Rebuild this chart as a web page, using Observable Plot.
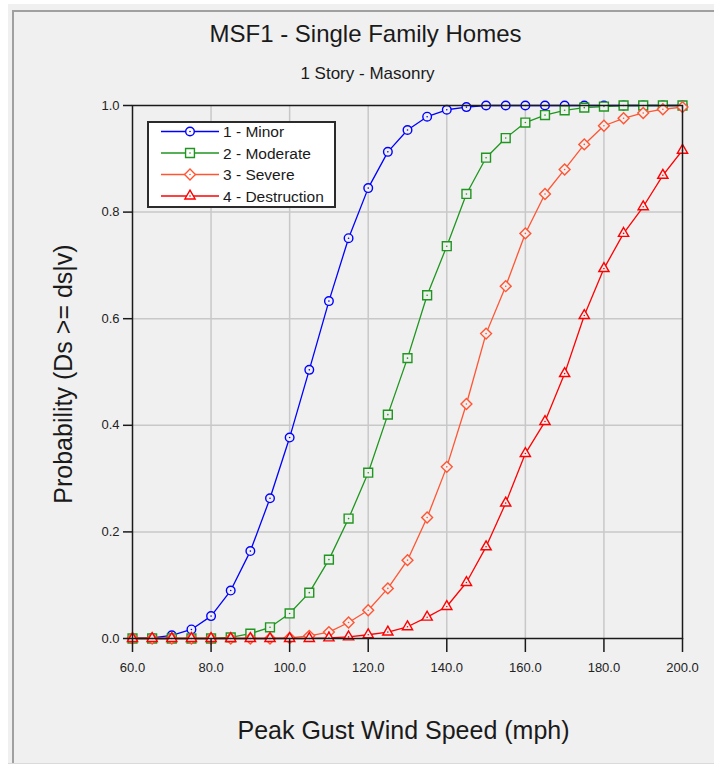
<!DOCTYPE html>
<html><head><meta charset="utf-8">
<script src="https://cdn.jsdelivr.net/npm/d3@7"></script>
<script src="https://cdn.jsdelivr.net/npm/@observablehq/plot@0.6"></script>
<style>
html,body{margin:0;padding:0;background:#fff;}
#wrap{position:relative;width:714px;height:766px;overflow:hidden;font-family:"Liberation Sans",Arial,sans-serif;}
#panel{position:absolute;left:8px;top:4px;width:706px;height:759px;background:#f0f0f0;border-bottom:1px solid #dadada;}
#inner{position:absolute;left:12px;top:10px;width:702px;height:753px;border-left:2px solid #a0a0a0;border-top:2px solid #a0a0a0;box-sizing:border-box;}
#chart{position:absolute;left:0;top:0;}
#legend{position:absolute;left:147px;top:121px;width:189px;height:87px;background:#fff;border:2px solid #2b2b2b;box-sizing:border-box;}
#legend svg{display:block;}
</style></head>
<body><div id="wrap"><div id="panel"></div><div id="inner"></div><div id="chart"></div><div id="legend"></div></div>
<script>
const windSpeed = [60,65,70,75,80,85,90,95,100,105,110,115,120,125,130,135,140,145,150,155,160,165,170,175,180,185,190,195,200];
const minor = [0,0.001,0.006,0.017,0.042,0.09,0.164,0.263,0.377,0.504,0.633,0.751,0.845,0.913,0.954,0.979,0.992,0.997,1,1,1,1,1,1,1,1,1,1,1];
const moderate = [0,0,0,0,0,0.002,0.009,0.021,0.047,0.086,0.148,0.225,0.311,0.42,0.526,0.644,0.736,0.834,0.902,0.939,0.968,0.982,0.991,0.996,0.998,1,1,1,1];
const severe = [0,0,0,0,0,0,0,0,0.001,0.005,0.012,0.03,0.053,0.094,0.147,0.227,0.322,0.44,0.572,0.661,0.76,0.834,0.88,0.927,0.962,0.976,0.986,0.993,0.997];
const destruction = [0,0,0,0,0,0,0,0,0,0,0.001,0.003,0.007,0.012,0.022,0.04,0.06,0.105,0.172,0.254,0.347,0.407,0.497,0.606,0.694,0.76,0.81,0.869,0.916];
const seriesNames = ["1 - Minor","2 - Moderate","3 - Severe","4 - Destruction"];
const seriesValues = [minor, moderate, severe, destruction];
const seriesColors = ["#0000ff","#1f961f","#ff5533","#ff0000"];
const seriesSymbols = ["circle","square","diamond2","triangle"];
const seriesRadius = [4.3,5.0,4.9,3.8];
const xTicks = [60,80,100,120,140,160,180,200];
const yTicks = [0,0.2,0.4,0.6,0.8,1.0];
const titleText = "MSF1 - Single Family Homes";
const subtitleText = "1 Story - Masonry";
const xLabel = "Peak Gust Wind Speed (mph)";
const yLabel = "Probability (Ds >= ds|v)";

const rows = [];
seriesNames.forEach((s, i) => windSpeed.forEach((w, j) => rows.push({series: s, speed: w, p: seriesValues[i][j]})));

const font = "Liberation Sans, Arial, sans-serif";
const fmt = d3.format(".1f");
const seriesMarks = seriesNames.flatMap((s, i) => {
  const d = rows.filter(r => r.series === s);
  return [
    Plot.line(d, {x: "speed", y: "p", stroke: seriesColors[i], strokeWidth: 1.3}),
    Plot.dot(d, {x: "speed", y: "p", symbol: () => seriesSymbols[i], r: seriesRadius[i], stroke: seriesColors[i], fill: "#f0f0f0", strokeWidth: 1.4}),
    Plot.dot(d, {x: "speed", y: "p", r: 0.8, fill: seriesColors[i], stroke: null})
  ];
});

const chart = Plot.plot({
  width: 714, height: 766,
  marginLeft: 132, marginRight: 32, marginTop: 105, marginBottom: 128,
  style: {background: "transparent", fontFamily: font, fontSize: "13px", color: "#222", overflow: "visible"},
  x: {domain: [60, 200], label: null},
  y: {domain: [0, 1], label: null},
  symbol: {type: "identity"},
  marks: [
    Plot.gridX(xTicks.slice(1, -1), {stroke: "#c8c8c8", strokeOpacity: 1, strokeWidth: 1.5}),
    Plot.gridY(yTicks.slice(1, -1), {stroke: "#c8c8c8", strokeOpacity: 1, strokeWidth: 1.5}),
    ...seriesMarks,
    Plot.frame({stroke: "#1a1a1a", strokeWidth: 1.5}),
    Plot.axisX(xTicks, {tickSize: 14, tickPadding: 10, tickFormat: fmt, fontSize: 13, stroke: "#1a1a1a", strokeWidth: 1.5, fill: "#222", label: null}),
    Plot.axisY(yTicks, {tickSize: 9, tickPadding: 4, tickFormat: fmt, fontSize: 13, stroke: "#1a1a1a", strokeWidth: 1.5, fill: "#222", label: null}),
    Plot.text([titleText], {text: d => d, frameAnchor: "top", lineAnchor: "bottom", dx: -42, dy: -64, fontSize: 24, fill: "#1a1a1a"}),
    Plot.text([subtitleText], {text: d => d, frameAnchor: "top", lineAnchor: "bottom", dx: -40, dy: -27, fontSize: 17, fill: "#1a1a1a"}),
    Plot.text([xLabel], {text: d => d, frameAnchor: "bottom", lineAnchor: "bottom", dx: -4, dy: 100, fontSize: 25, fill: "#1a1a1a"}),
    Plot.text([yLabel], {text: d => d, frameAnchor: "left", textAnchor: "middle", lineAnchor: "bottom", rotate: -90, dx: -61, dy: 2, fontSize: 25, fill: "#1a1a1a"})
  ]
});
document.getElementById("chart").appendChild(chart);

// Legend
const lg = d3.select("#legend").append("svg").attr("width", 185).attr("height", 83);
seriesNames.forEach((s, i) => {
  const cy = 8.5 + i * 21.5;
  lg.append("line").attr("x1", 12).attr("x2", 70).attr("y1", cy).attr("y2", cy).attr("stroke", seriesColors[i]).attr("stroke-width", 1.3);
  const sym = {circle: d3.symbolCircle, square: d3.symbolSquare, diamond2: d3.symbolDiamond2, triangle: d3.symbolTriangle}[seriesSymbols[i]];
  lg.append("path").attr("transform", `translate(41,${cy})`)
    .attr("d", d3.symbol(sym, Math.PI * seriesRadius[i] * seriesRadius[i])())
    .attr("fill", "#fff").attr("stroke", seriesColors[i]).attr("stroke-width", 1.4);
  lg.append("circle").attr("cx", 41).attr("cy", cy).attr("r", 0.8).attr("fill", seriesColors[i]);
  lg.append("text").attr("x", 74).attr("y", cy).attr("dy", "0.36em").attr("font-family", font).attr("font-size", 15.5).attr("fill", "#1a1a1a").text(s);
});
</script>
</body></html>
